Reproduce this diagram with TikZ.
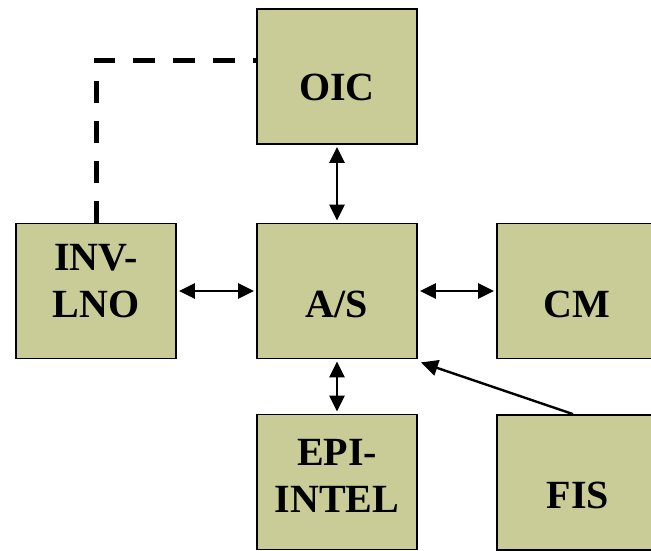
\documentclass[tikz,border=0pt]{standalone}
\usepackage{fontspec}
\setmainfont{Liberation Serif}
\usetikzlibrary{arrows.meta}
\definecolor{boxfill}{RGB}{201,204,151}
\begin{document}
\begin{tikzpicture}[x=1pt,y=-1pt,
  box/.style={draw=black, line width=1.8pt, fill=boxfill, minimum width=160pt, minimum height=135pt, inner sep=0pt, anchor=center},
  lbl/.style={font=\fontsize{40}{47}\selectfont\bfseries, anchor=base, inner sep=0pt, align=center},
  conn/.style={line width=2.4pt, shorten <=2pt, shorten >=2pt, {Triangle[length=16pt,width=15pt]}-{Triangle[length=16pt,width=15pt]}},
  oneway/.style={line width=2.4pt, -{Triangle[length=17pt,width=16pt]}},
  dashline/.style={line width=5pt, dash pattern=on 22pt off 18pt}
]
\useasboundingbox (0,0) rectangle (651,550);
\fill[white] (0,0) rectangle (651,550);
\node[box] (oic) at (337,76.5) {};
\node[box] (inv) at (96,291) {};
\node[box] (as) at (337,291) {};
\node[box] (cm) at (577,291) {};
\node[box] (epi) at (337,482) {};
\node[box] (fis) at (577,482.5) {};
\node[lbl] (toic) at (337,100) {OIC};
\node[lbl] (tinv) at (96,317) {INV-\\LNO};
\node[lbl] (tas) at (337,317) {A/S};
\node[lbl] (tcm) at (577,317) {CM};
\node[lbl] (tepi) at (337,512) {EPI-\\INTEL};
\node[lbl] (tfis) at (578,508) {FIS};
\draw[conn] (oic.south) -- (as.north);
\draw[conn] (inv.east) -- (as.west);
\draw[conn] (as.east) -- (cm.west);
\draw[conn] (as.south) -- (epi.north);
\coordinate (fisend) at ([xshift=3pt,yshift=-3pt]as.south east);
\draw[oneway] ([xshift=-4pt]fis.north) -- (fisend);
\draw[dashline] (inv.north) |- ([yshift=16.5pt]oic.west);
\end{tikzpicture}
\end{document}
